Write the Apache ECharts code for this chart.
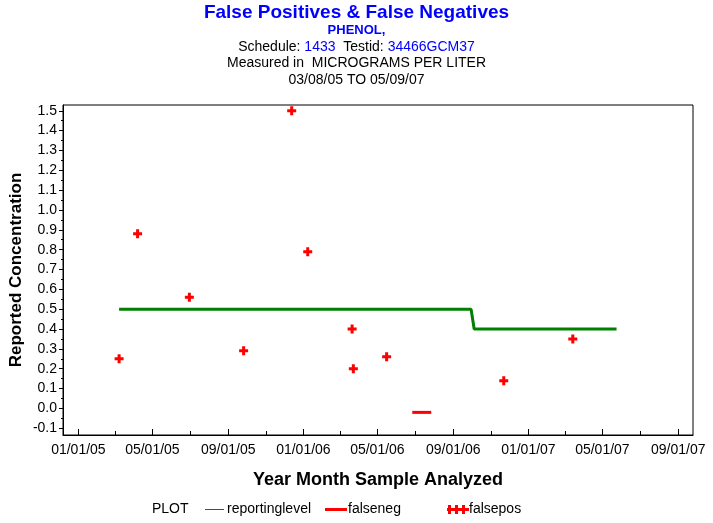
<!DOCTYPE html>
<html>
<head>
<meta charset="utf-8">
<script src="https://cdn.jsdelivr.net/npm/echarts@6/dist/echarts.min.js"></script>
<style>
html,body{margin:0;padding:0;background:#fff;}
#chart{width:713px;height:523px;}
</style>
</head>
<body>
<div id="chart"></div>
<script>
// ---- data ----
const falseposDates = ['2005-03-08','2005-04-07','2005-06-30','2005-09-26','2005-12-13','2006-01-08','2006-03-21','2006-03-23','2006-05-16','2006-11-22','2007-03-14'];
const falseposValues = [0.25, 0.88, 0.56, 0.29, 1.50, 0.79, 0.40, 0.20, 0.26, 0.14, 0.35];
const falsenegDates = ['2006-07-12'];
const falsenegValues = [-0.02];
const reportDates = ['2005-03-08','2006-09-30','2006-10-05','2007-05-24'];
const reportValues = [0.5, 0.5, 0.4, 0.4];
const xMajorTicks = ['2005-01-01','2005-05-01','2005-09-01','2006-01-01','2006-05-01','2006-09-01','2007-01-01','2007-05-01','2007-09-01'];
const xMinorTicks = ['2005-03-01','2005-07-01','2005-11-01','2006-03-01','2006-07-01','2006-11-01','2007-03-01','2007-07-01'];
const yMajorTicks = [-0.1,0,0.1,0.2,0.3,0.4,0.5,0.6,0.7,0.8,0.9,1.0,1.1,1.2,1.3,1.4,1.5];
const yMinorTicks = [-0.05,0.05,0.15,0.25,0.35,0.45,0.55,0.65,0.75,0.85,0.95,1.05,1.15,1.25,1.35,1.45];
const xMin = '2004-12-07', xMax = '2007-09-25';
const yMin = -0.134, yMax = 1.529;

function ts(s){ const p = s.split('-').map(Number); return Date.UTC(p[0], p[1]-1, p[2]); }
function fmt(v){ const d = new Date(v); const mm = String(d.getUTCMonth()+1).padStart(2,'0'); const dd = String(d.getUTCDate()).padStart(2,'0'); const yy = String(d.getUTCFullYear()%100).padStart(2,'0'); return mm+'/'+dd+'/'+yy; }
function pairs(ds, vs){ return ds.map((d,i)=>[ts(d), vs[i]]); }

const FONT = '"Liberation Sans", Arial, Helvetica, sans-serif';
const crossPath = 'path://M3,0H6V3H9V6H6V9H3V6H0V3H3Z';

const chart = echarts.init(document.getElementById('chart'), null, {renderer:'canvas'});
function legText(x, t){ return {type:'text', x:x, y:509, style:{text:t, fontFamily:FONT, fontSize:14, fill:'#000', textVerticalAlign:'middle', verticalAlign:'middle', textAlign:'left', align:'left'}}; }
const option = {
  animation: false,
  backgroundColor: '#fff',
  textStyle: {fontFamily: FONT},
  title: [
    {text:'False Positives & False Negatives', left:'center', top:3, padding:0,
     textStyle:{fontFamily:FONT, fontSize:19, fontWeight:'bold', color:'#0000ff', lineHeight:20}},
    {text:'PHENOL,', left:'center', top:23, padding:0,
     textStyle:{fontFamily:FONT, fontSize:13, fontWeight:'bold', color:'#0000ff', lineHeight:14}},
    {text:'{k|Schedule: }{v|1433}{k|  Testid: }{v|34466GCM37}', left:'center', top:39, padding:0,
     textStyle:{fontFamily:FONT, fontSize:14, fontWeight:'normal', color:'#000', lineHeight:16,
       rich:{k:{fontFamily:FONT, fontSize:14, color:'#000'}, v:{fontFamily:FONT, fontSize:14, color:'#0000ff'}}}},
    {text:'Measured in  MICROGRAMS PER LITER', left:'center', top:55, padding:0,
     textStyle:{fontFamily:FONT, fontSize:14, fontWeight:'normal', color:'#000', lineHeight:16}},
    {text:'03/08/05 TO 05/09/07', left:'center', top:72, padding:0,
     textStyle:{fontFamily:FONT, fontSize:14, fontWeight:'normal', color:'#000', lineHeight:16}}
  ],
  grid: {left:63, right:20, top:105, bottom:88, containLabel:false, outerBoundsMode:'none',
         show:true, borderColor:'#000', borderWidth:1, backgroundColor:'transparent'},
  xAxis: [
    {type:'value', min:ts(xMin), max:ts(xMax), position:'bottom',
     name:'Year Month Sample Analyzed', nameLocation:'middle', nameGap:36, nameMoveOverlap:false,
     nameTextStyle:{fontFamily:FONT, fontSize:18, fontWeight:'bold', color:'#000'},
     axisLine:{show:true, onZero:false, lineStyle:{color:'#000', width:1}},
     axisTick:{show:true, inside:true, length:6, lineStyle:{color:'#000'}, customValues: xMajorTicks.map(ts)},
     axisLabel:{show:true, margin:8, fontFamily:FONT, fontSize:14, color:'#000', customValues: xMajorTicks.map(ts), formatter: fmt},
     splitLine:{show:false}},
    {type:'value', min:ts(xMin), max:ts(xMax), position:'bottom', offset:0,
     axisLine:{show:false, onZero:false},
     axisTick:{show:true, inside:true, length:4, lineStyle:{color:'#000'}, customValues: xMinorTicks.map(ts)},
     axisLabel:{show:false}, splitLine:{show:false}}
  ],
  yAxis: [
    {type:'value', min:yMin, max:yMax, position:'left',
     name:'Reported Concentration', nameLocation:'middle', nameGap:38, nameMoveOverlap:false,
     nameTextStyle:{fontFamily:FONT, fontSize:17, fontWeight:'bold', color:'#000'},
     axisLine:{show:true, onZero:false, lineStyle:{color:'#000', width:1}},
     axisTick:{show:true, inside:false, length:4, lineStyle:{color:'#000'}, customValues: yMajorTicks},
     axisLabel:{show:true, margin:6, fontFamily:FONT, fontSize:14, color:'#000', customValues: yMajorTicks, formatter: v => v.toFixed(1)},
     splitLine:{show:false}},
    {type:'value', min:yMin, max:yMax, position:'left', offset:0,
     axisLine:{show:false, onZero:false},
     axisTick:{show:true, inside:false, length:2, lineStyle:{color:'#000'}, customValues: yMinorTicks},
     axisLabel:{show:false}, splitLine:{show:false}}
  ],
  series: [
    {name:'reportinglevel', type:'line', xAxisIndex:0, yAxisIndex:0, data: pairs(reportDates, reportValues),
     showSymbol:false, symbol:'none', lineStyle:{color:'#008000', width:3}, itemStyle:{color:'#008000'}, z:2},
    {name:'falseneg', type:'scatter', xAxisIndex:0, yAxisIndex:0, data: pairs(falsenegDates, falsenegValues),
     symbol:'rect', symbolSize:[19,3], itemStyle:{color:'#ff0000', opacity:1}, z:3},
    {name:'falsepos', type:'scatter', xAxisIndex:0, yAxisIndex:0, data: pairs(falseposDates, falseposValues),
     symbol:crossPath, symbolSize:9, itemStyle:{color:'#ff0000', opacity:1}, z:3}
  ],
  graphic: [
    legText(152, 'PLOT'),
    {type:'rect', shape:{x:205, y:509, width:19, height:1}, style:{fill:'#008000'}},
    legText(227, 'reportinglevel'),
    {type:'rect', shape:{x:325, y:508, width:22, height:3}, style:{fill:'#ff0000'}},
    legText(348, 'falseneg'),
    {type:'rect', shape:{x:447, y:508, width:22, height:3}, style:{fill:'#ff0000'}},
    {type:'rect', shape:{x:448, y:505, width:3, height:9}, style:{fill:'#ff0000'}},
    {type:'rect', shape:{x:455, y:505, width:3, height:9}, style:{fill:'#ff0000'}},
    {type:'rect', shape:{x:462, y:505, width:3, height:9}, style:{fill:'#ff0000'}},
    legText(469, 'falsepos')
  ]
};
chart.setOption(option);
</script>
</body>
</html>
